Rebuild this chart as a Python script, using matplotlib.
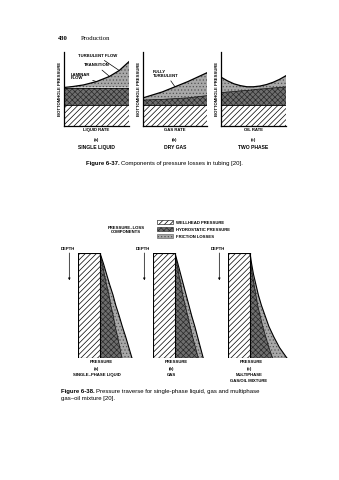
import numpy as np
import matplotlib
matplotlib.use("Agg")
import matplotlib.pyplot as plt
from matplotlib.patches import Patch

plt.rcParams['font.family'] = ['Liberation Sans', 'DejaVu Sans']
plt.rcParams['hatch.linewidth'] = 0.5

# ---- Figure 6-37: bottomhole pressure vs rate (axes units 0..1)
rate = [0, 0.15, 0.3, 0.5, 0.7, 0.85, 1.0]
liq_wellhead = 0.28
liq_hydro = 0.52
liq_total = [0.52, 0.535, 0.555, 0.60, 0.67, 0.75, 0.87]

gas_wellhead = 0.28
gas_hydro = [0.35, 0.355, 0.36, 0.37, 0.38, 0.395, 0.41]
gas_total = [0.38, 0.42, 0.46, 0.53, 0.60, 0.66, 0.72]

oil_rate = [0, 0.1, 0.2, 0.3, 0.4, 0.5, 0.6, 0.7, 0.8, 0.9, 1.0]
tp_wellhead = 0.28
tp_hydro = [0.45, 0.46, 0.465, 0.475, 0.48, 0.49, 0.50, 0.505, 0.515, 0.52, 0.53]
tp_total = [0.66, 0.61, 0.57, 0.545, 0.53, 0.53, 0.54, 0.56, 0.59, 0.63, 0.68]

# ---- Figure 6-38: pressure traverse (depth 0 = wellhead, pressure in axes units)
depth = [0, 0.1, 0.2, 0.3, 0.4, 0.5, 0.6, 0.7, 0.8, 0.9, 1.0]
trav_wellhead = 0.355
liq_trav_hydro = [0.355, 0.39, 0.425, 0.46, 0.50, 0.53, 0.57, 0.60, 0.64, 0.675, 0.71]
liq_trav_total = [0.355, 0.41, 0.46, 0.51, 0.565, 0.61, 0.665, 0.715, 0.77, 0.82, 0.87]
gas_trav_hydro = [0.355, 0.385, 0.415, 0.45, 0.48, 0.52, 0.56, 0.60, 0.64, 0.685, 0.73]
gas_trav_total = [0.355, 0.40, 0.445, 0.49, 0.535, 0.58, 0.625, 0.675, 0.72, 0.765, 0.81]
mp_trav_hydro = [0.355, 0.37, 0.39, 0.42, 0.45, 0.48, 0.52, 0.56, 0.61, 0.66, 0.72]
mp_trav_total = [0.355, 0.38, 0.41, 0.45, 0.49, 0.54, 0.60, 0.66, 0.74, 0.83, 0.95]

W, H = 339, 480
fig = plt.figure(figsize=(W / 100, H / 100), dpi=100)
fig.patch.set_facecolor('white')


def box(l, t, w, h):
    return [l / W, 1 - (t + h) / H, w / W, h / H]


def ftext(x, y, s, **kw):
    return fig.text(x / W, 1 - y / H, s, **kw)


WH_STYLE = dict(facecolor='white', edgecolor='black', hatch='//////', lw=0)
HS_STYLE = dict(facecolor='#6e6e6e', edgecolor='#2a2a2a', hatch='xxxxxx', lw=0)
FR_STYLE = dict(facecolor='#a8a8a8', edgecolor='#555555', hatch='.....', lw=0)
small = dict(fontsize=3.1, fontweight='bold')

# header
ftext(58, 39, '430', fontsize=4.8, fontweight='bold', family='Liberation Serif', va='center')
ftext(81, 39, 'Production', fontsize=4.8, family='Liberation Serif', va='center')


def top_panel(pos, x, wh, hs, tot, xlabel, tag, name):
    ax = fig.add_axes(box(*pos))
    hs = np.broadcast_to(hs, np.shape(x))
    ax.fill_between(x, 0, wh, **WH_STYLE)
    ax.fill_between(x, wh, hs, **HS_STYLE)
    ax.fill_between(x, hs, tot, **FR_STYLE)
    ax.axhline(wh, color='black', lw=0.6)
    ax.plot(x, hs, color='black', lw=0.5)
    ax.plot(x, tot, color='black', lw=0.9)
    ax.set_xlim(0, 1)
    ax.set_ylim(0, 1)
    ax.set_xticks([])
    ax.set_yticks([])
    for s in ('top', 'right'):
        ax.spines[s].set_visible(False)
    for s in ('left', 'bottom'):
        ax.spines[s].set_linewidth(0.9)
    ax.set_ylabel('BOTTOMHOLE PRESSURE', labelpad=1.5, **small)
    ax.set_xlabel(xlabel, labelpad=1.5, **small)
    ax.text(0.5, -0.19, tag, transform=ax.transAxes, ha='center', va='center', **small)
    ax.text(0.5, -0.29, name, transform=ax.transAxes, ha='center', va='center',
            fontsize=3.6, fontweight='bold')
    return ax


ax_a = top_panel((64, 52, 65, 74), rate, liq_wellhead, liq_hydro, liq_total,
                 'LIQUID RATE', '(a)', 'SINGLE LIQUID')
arrow = dict(arrowstyle='-', lw=0.5, color='black', shrinkA=0, shrinkB=0)
ax_a.annotate('TURBULENT FLOW', xy=(rate[5], liq_total[5]), xytext=(0.21, 0.95),
              textcoords='axes fraction', va='center', arrowprops=arrow, **small)
ax_a.annotate('TRANSITION', xy=(rate[4], liq_total[4]), xytext=(0.30, 0.82),
              textcoords='axes fraction', va='center', arrowprops=arrow, **small)
ax_a.annotate('LAMINAR\nFLOW', xy=(rate[3], liq_total[3]), xytext=(0.10, 0.67),
              textcoords='axes fraction', va='center', linespacing=0.9,
              arrowprops=arrow, **small)

ax_b = top_panel((143, 52, 64, 74), rate, gas_wellhead, gas_hydro, gas_total,
                 'GAS RATE', '(b)', 'DRY GAS')
ax_b.annotate('FULLY\nTURBULENT', xy=(rate[3], gas_total[3]), xytext=(0.16, 0.70),
              textcoords='axes fraction', va='center', linespacing=0.9,
              arrowprops=arrow, **small)

top_panel((221, 52, 65, 74), oil_rate, tp_wellhead, tp_hydro, tp_total,
          'OIL RATE', '(c)', 'TWO PHASE')


def caption(x, y, bold, rest, size):
    t = ftext(x, y, bold, fontsize=size, fontweight='bold', va='center')
    r = fig.canvas.get_renderer()
    bb = t.get_window_extent(renderer=r)
    ftext(bb.x1 + 1.5, y, rest, fontsize=size, va='center')


caption(86, 163, 'Figure 6-37.', 'Components of pressure losses in tubing [20].', 4.3)

# legend
ftext(126, 230, 'PRESSURE\u2013LOSS\nCOMPONENTS', ha='center', va='center',
      linespacing=1.0, **small)
leg_ax = fig.add_axes(box(157, 220, 90, 22))
leg_ax.axis('off')
handles = [Patch(label='WELLHEAD PRESSURE', **{**WH_STYLE, 'lw': 0.4}),
           Patch(label='HYDROSTATIC PRESSURE', **{**HS_STYLE, 'lw': 0.4}),
           Patch(label='FRICTION LOSSES', **{**FR_STYLE, 'lw': 0.4})]
leg_ax.legend(handles=handles, loc='upper left', frameon=False, borderpad=0,
              borderaxespad=0, prop={'weight': 'bold', 'size': 3.1},
              handlelength=3.6, handleheight=1.2, labelspacing=0.55, handletextpad=0.9)


def traverse(left, hs, tot, lines):
    ax = fig.add_axes(box(left, 253, 62, 105))
    ax.fill_betweenx(depth, 0, trav_wellhead, **WH_STYLE)
    ax.fill_betweenx(depth, trav_wellhead, hs, **HS_STYLE)
    ax.fill_betweenx(depth, hs, tot, **FR_STYLE)
    edge = dict(color='black', lw=0.8)
    ax.plot(np.zeros(len(depth)), depth, **edge)
    ax.plot(np.full(len(depth), trav_wellhead), depth, **edge)
    ax.plot([0, trav_wellhead], [depth[0], depth[0]], **edge)
    ax.plot([0, tot[-1]], [depth[-1], depth[-1]], **edge)
    ax.plot(hs, depth, color='black', lw=0.5)
    ax.plot(tot, depth, color='black', lw=0.8)
    ax.set_xlim(0, 1)
    ax.set_ylim(1, 0)
    ax.axis('off')
    ax.annotate('', xy=(-0.14, 0.74), xytext=(-0.14, 1.0), xycoords='axes fraction',
                arrowprops=dict(arrowstyle='-|>', lw=0.5, color='black',
                                mutation_scale=3, shrinkA=0, shrinkB=0))
    ax.text(-0.16, 1.04, 'DEPTH', transform=ax.transAxes, ha='center', va='center', **small)
    ax.text(0.38, -0.04, 'PRESSURE', transform=ax.transAxes, ha='center', va='center', **small)
    for i, s in enumerate(lines):
        ax.text(0.30 + 0.04 * (len(lines) > 2), -0.105 - 0.055 * i, s,
                transform=ax.transAxes, ha='center', va='center', **small)
    return ax


traverse(78, liq_trav_hydro, liq_trav_total, ['(a)', 'SINGLE\u2013PHASE LIQUID'])
traverse(153, gas_trav_hydro, gas_trav_total, ['(b)', 'GAS'])
traverse(228, mp_trav_hydro, mp_trav_total, ['(c)', 'MULTIPHASE', 'GAS/OIL MIXTURE'])

caption(61, 392, 'Figure 6-38.',
        'Pressure traverse for single-phase liquid, gas and multiphase', 4.3)
ftext(61, 398.5, 'gas\u2013oil mixture [20].', fontsize=4.3, va='center')

fig.savefig('out.png', dpi=100, facecolor='white')
